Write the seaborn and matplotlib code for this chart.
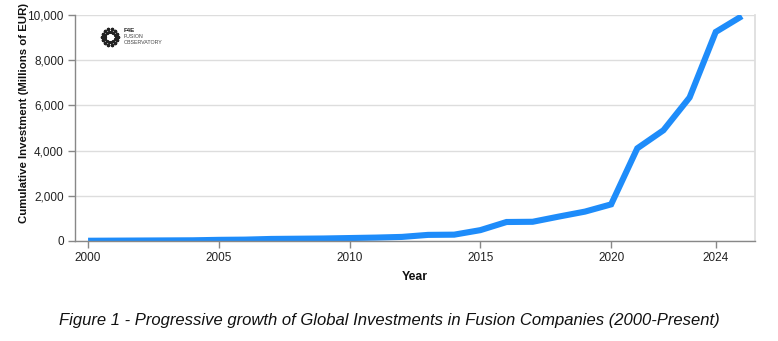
import numpy as np
import pandas as pd
import matplotlib
matplotlib.use("Agg")
import matplotlib.pyplot as plt
import seaborn as sns

years = [2000, 2001, 2002, 2003, 2004, 2005, 2006, 2007, 2008, 2009, 2010, 2011, 2012,
         2013, 2014, 2015, 2016, 2017, 2018, 2019, 2020, 2021, 2022, 2023, 2024, 2025]
investment = [10, 15, 20, 25, 30, 50, 60, 90, 100, 110, 130, 150, 180,
              270, 280, 480, 840, 850, 1080, 1300, 1620, 4100, 4900, 6350, 9250, 9950]
x_ticks = [2000, 2005, 2010, 2015, 2020, 2024]
y_ticks = [0, 2000, 4000, 6000, 8000, 10000]

df = pd.DataFrame({"Year": years, "Investment": investment})

sns.set_theme(style="white")
plt.rcParams["font.family"] = ["Liberation Sans", "DejaVu Sans"]

fig = plt.figure(figsize=(7.78, 3.41), dpi=100)
ax = fig.add_axes([0.0964, 0.2933, 0.874, 0.6627])

sns.lineplot(data=df, x="Year", y="Investment", ax=ax, color="#1E8CFA",
             linewidth=4.4, solid_joinstyle="miter", solid_capstyle="butt")

ax.set_xlim(1999.5, 2025.5)
ax.set_ylim(0, 10000)
ax.set_xticks(x_ticks)
ax.set_yticks(y_ticks)
ax.set_yticklabels([f"{v:,}" for v in y_ticks])
ax.grid(axis="y", color="#dddddd", linewidth=1)
ax.set_axisbelow(True)

for side in ["left", "bottom"]:
    ax.spines[side].set_color("#888888")
    ax.spines[side].set_linewidth(1)
ax.spines["right"].set_color("#dddddd")
ax.spines["top"].set_visible(False)
ax.tick_params(axis="both", length=5, width=1, color="#888888",
               labelsize=8.5, labelcolor="#222222", pad=3)
ax.tick_params(axis="x", bottom=True)
ax.tick_params(axis="y", left=True)

ax.set_xlabel("Year", fontsize=8.8, fontweight="bold", color="#111111", labelpad=5)
ax.set_ylabel("Cumulative Investment (Millions of EUR)", fontsize=8.2,
              fontweight="bold", color="#111111")
ax.yaxis.set_label_coords(-0.067, 0.566)

# F4E Fusion Observatory badge
cx, cy = 110, 37
ang = np.linspace(0, 2 * np.pi, 14, endpoint=False)
for r, s in [(8, 2.2), (5.5, 1.6)]:
    px = cx + r * np.cos(ang)
    py = cy + r * np.sin(ang)
    fig.add_artist(plt.scatter(px / 778, 1 - py / 341, s=s, color="#222222",
                               transform=fig.transFigure, clip_on=False))
fig.text(124 / 778, 1 - 31 / 341, "F4E", fontsize=4.5, fontweight="bold",
         color="#222222", va="center")
fig.text(124 / 778, 1 - 37 / 341, "FUSION", fontsize=3.8, color="#444444", va="center")
fig.text(124 / 778, 1 - 42 / 341, "OBSERVATORY", fontsize=3.8, color="#444444", va="center")

fig.text(0.5, 1 - 320 / 341,
         "Figure 1 - Progressive growth of Global Investments in Fusion Companies (2000-Present)",
         ha="center", va="center", fontsize=12, fontstyle="italic", color="#111111")

fig.savefig("out.png", dpi=100, facecolor="white")
